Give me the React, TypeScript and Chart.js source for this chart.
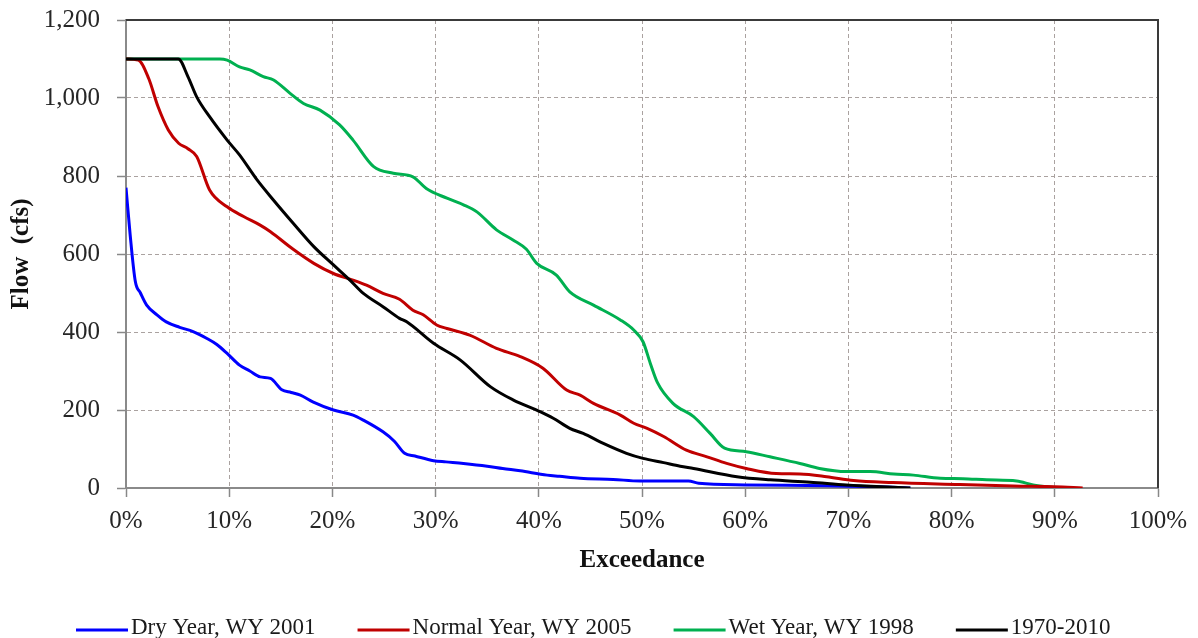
import React, { useEffect, useRef } from "react";
import { Chart, registerables } from "chart.js";

Chart.register(...registerables);

const seriesNames = ["Dry Year, WY 2001", "Normal Year, WY 2005", "Wet Year, WY 1998", "1970-2010"];
const seriesColors = ["#0000FF", "#C00000", "#00B050", "#000000"];

const dryX = [0, 0.4, 0.9, 1.4, 2, 3, 3.9, 5.2, 6.5, 7.8, 8.8, 9.8, 11, 12, 13, 14, 15.1, 16, 16.9, 18.1, 20.1, 22, 23, 24.9, 26, 27, 28, 29.8, 31, 32.7, 35, 36.5, 38.2, 40.8, 42, 44, 47.2, 49.8, 51.7, 54.5, 55.5, 60, 68, 74.3, 76];
const dryY = [770, 650, 530, 500, 469, 444, 426, 412, 401, 384, 368, 345, 315, 300, 285, 281, 252, 245, 238, 221, 200, 187, 174, 144, 120, 89, 82, 70, 67, 63, 56, 50, 44, 33, 30, 25, 22, 18, 18, 18, 12, 8, 6, 2, 0];

const normalX = [0, 1.2, 2.2, 3.1, 4.1, 5.1, 6, 6.85, 8.1, 9.8, 11.4, 13, 14, 16.2, 18.2, 20.1, 22, 23.3, 24.9, 26.5, 27.8, 28.8, 30.1, 31.1, 33.3, 35.9, 38.2, 40.4, 42.7, 44, 45.3, 47.9, 49.2, 50.5, 52.1, 54.3, 56.3, 58.2, 60.1, 63, 65.3, 67.9, 70.5, 74.3, 80.8, 86, 90, 92.7];
const normalY = [1100, 1097, 1050, 978, 918, 884, 870, 850, 764, 721, 696, 674, 657, 612, 576, 550, 533, 520, 499, 484, 456, 444, 418, 409, 392, 358, 337, 307, 251, 238, 217, 187, 166, 153, 132, 97, 80, 63, 50, 37, 36, 29, 19, 14, 9, 5, 3, 0];

const wetX = [0, 5, 9.1, 9.8, 11, 12, 13.3, 14.3, 15.9, 17.2, 18.8, 20.7, 22, 24, 25.9, 27.8, 29.1, 31.1, 32.7, 34, 35.9, 37.5, 38.8, 39.8, 41.7, 43, 45.3, 47.9, 49.2, 50.1, 50.8, 51.5, 53, 55, 56.6, 58, 60.1, 62.4, 65.3, 67.2, 69.8, 72.1, 74.4, 76.3, 78.9, 81.1, 83.4, 86.3, 87.9, 90.2];
const wetY = [1100, 1100, 1100, 1097, 1080, 1072, 1055, 1046, 1012, 986, 969, 931, 892, 824, 807, 798, 768, 743, 726, 708, 662, 636, 612, 576, 546, 503, 469, 431, 405, 375, 320, 270, 217, 183, 140, 102, 93, 80, 63, 50, 42, 42, 36, 33, 25, 24, 21, 18, 8, 0];

const longX = [0, 5.07, 6, 6.85, 8.1, 9.8, 11, 12.7, 14.3, 16.2, 18.2, 20.1, 21.7, 23, 24.9, 26.5, 27.2, 29.8, 32.4, 35.3, 37.5, 40.1, 41.4, 43, 44.3, 46.2, 48.5, 50.1, 52.1, 53.7, 55, 59.2, 62.4, 66.3, 69.8, 74.3, 76];
const longY = [1100, 1100, 1055, 1003, 952, 892, 854, 790, 738, 679, 619, 572, 533, 499, 465, 435, 426, 371, 328, 260, 226, 196, 179, 153, 140, 115, 89, 76, 65, 56, 50, 29, 21, 15, 8, 2, 0];

const xTickStep = 10;
const yTickStep = 200;

const FONT = '"Liberation Serif", "Times New Roman", serif';

function pts(xs: number[], ys: number[]) {
  return xs.map((x, i) => ({ x, y: ys[i] }));
}

const frameAndLegend = {
  id: "frameAndLegend",
  afterDatasetsDraw(chart: any) {
    const { ctx, chartArea } = chart;
    ctx.save();
    ctx.lineWidth = 2;
    ctx.strokeStyle = "#3a3a3a";
    ctx.beginPath();
    ctx.moveTo(chartArea.left, chartArea.top);
    ctx.lineTo(chartArea.right, chartArea.top);
    ctx.lineTo(chartArea.right, chartArea.bottom);
    ctx.stroke();
    ctx.restore();
  },
  afterDraw(chart: any) {
    const { ctx } = chart;
    ctx.save();
    ctx.font = `23px ${FONT}`;
    ctx.textBaseline = "middle";
    ctx.textAlign = "left";
    let x = 76;
    const y = 628;
    seriesNames.forEach((name, i) => {
      ctx.strokeStyle = seriesColors[i];
      ctx.lineWidth = 3;
      ctx.beginPath();
      ctx.moveTo(x, y + 2);
      ctx.lineTo(x + 52, y + 2);
      ctx.stroke();
      ctx.fillStyle = "#1a1a1a";
      ctx.fillText(name, x + 55, y);
      x += 55 + ctx.measureText(name).width + 42;
    });
    ctx.restore();
  },
};

export default function App() {
  const ref = useRef<HTMLCanvasElement>(null);
  useEffect(() => {
    document.body.style.margin = "0";
    const xs = [dryX, normalX, wetX, longX];
    const ys = [dryY, normalY, wetY, longY];
    const orders = [3, 1, 2, 0];
    const chart = new Chart(ref.current!, {
      type: "line",
      data: {
        datasets: seriesNames.map((name, i) => ({
          label: name,
          data: pts(xs[i], ys[i]),
          borderColor: seriesColors[i],
          backgroundColor: seriesColors[i],
          borderWidth: 3,
          pointRadius: 0,
          cubicInterpolationMode: "monotone" as const,
          order: orders[i],
        })),
      },
      options: {
        responsive: false,
        animation: false,
        layout: { padding: { top: 20, right: 40, left: 0, bottom: 0 } },
        plugins: { legend: { display: false }, tooltip: { enabled: false } },
        scales: {
          x: {
            type: "linear",
            min: 0,
            max: 100,
            afterFit: (s: any) => {
              s.height = 150;
              s.paddingLeft = 0;
              s.paddingRight = 0;
            },
            ticks: {
              stepSize: xTickStep,
              callback: (v: any) => `${v}%`,
              font: { family: FONT, size: 25 },
              color: "#262626",
              padding: 9,
              maxRotation: 0,
            },
            grid: {
              color: "#aaa2a0",
              lineWidth: 1,
              tickColor: "#888",
              tickLength: 9,
              tickWidth: 1.5,
            },
            border: { color: "#8a8a8a", width: 2, dash: [4, 3] },
            title: {
              display: true,
              text: "Exceedance",
              font: { family: FONT, size: 25, weight: "bold" },
              color: "#111",
              padding: { top: 0, bottom: 62 },
            },
          },
          y: {
            min: 0,
            max: 1200,
            afterFit: (s: any) => {
              s.width = 126;
              s.paddingTop = 0;
              s.paddingBottom = 0;
            },
            ticks: {
              stepSize: yTickStep,
              callback: (v: any) => Number(v).toLocaleString("en-US"),
              font: { family: FONT, size: 25 },
              color: "#262626",
              padding: 17,
            },
            grid: {
              color: "#aaa2a0",
              lineWidth: 1,
              tickColor: "#888",
              tickLength: 9,
              tickWidth: 1.5,
            },
            border: { color: "#8a8a8a", width: 2, dash: [4, 3] },
            title: {
              display: true,
              text: "Flow  (cfs)",
              font: { family: FONT, size: 25, weight: "bold" },
              color: "#111",
              padding: { top: 7, bottom: 0 },
            },
          },
        },
      },
      plugins: [frameAndLegend],
    });
    return () => chart.destroy();
  }, []);
  return (
    <div style={{ position: "absolute", left: 0, top: 0, width: 1198, height: 638, background: "#fff" }}>
      <canvas ref={ref} width={1198} height={638} />
    </div>
  );
}
